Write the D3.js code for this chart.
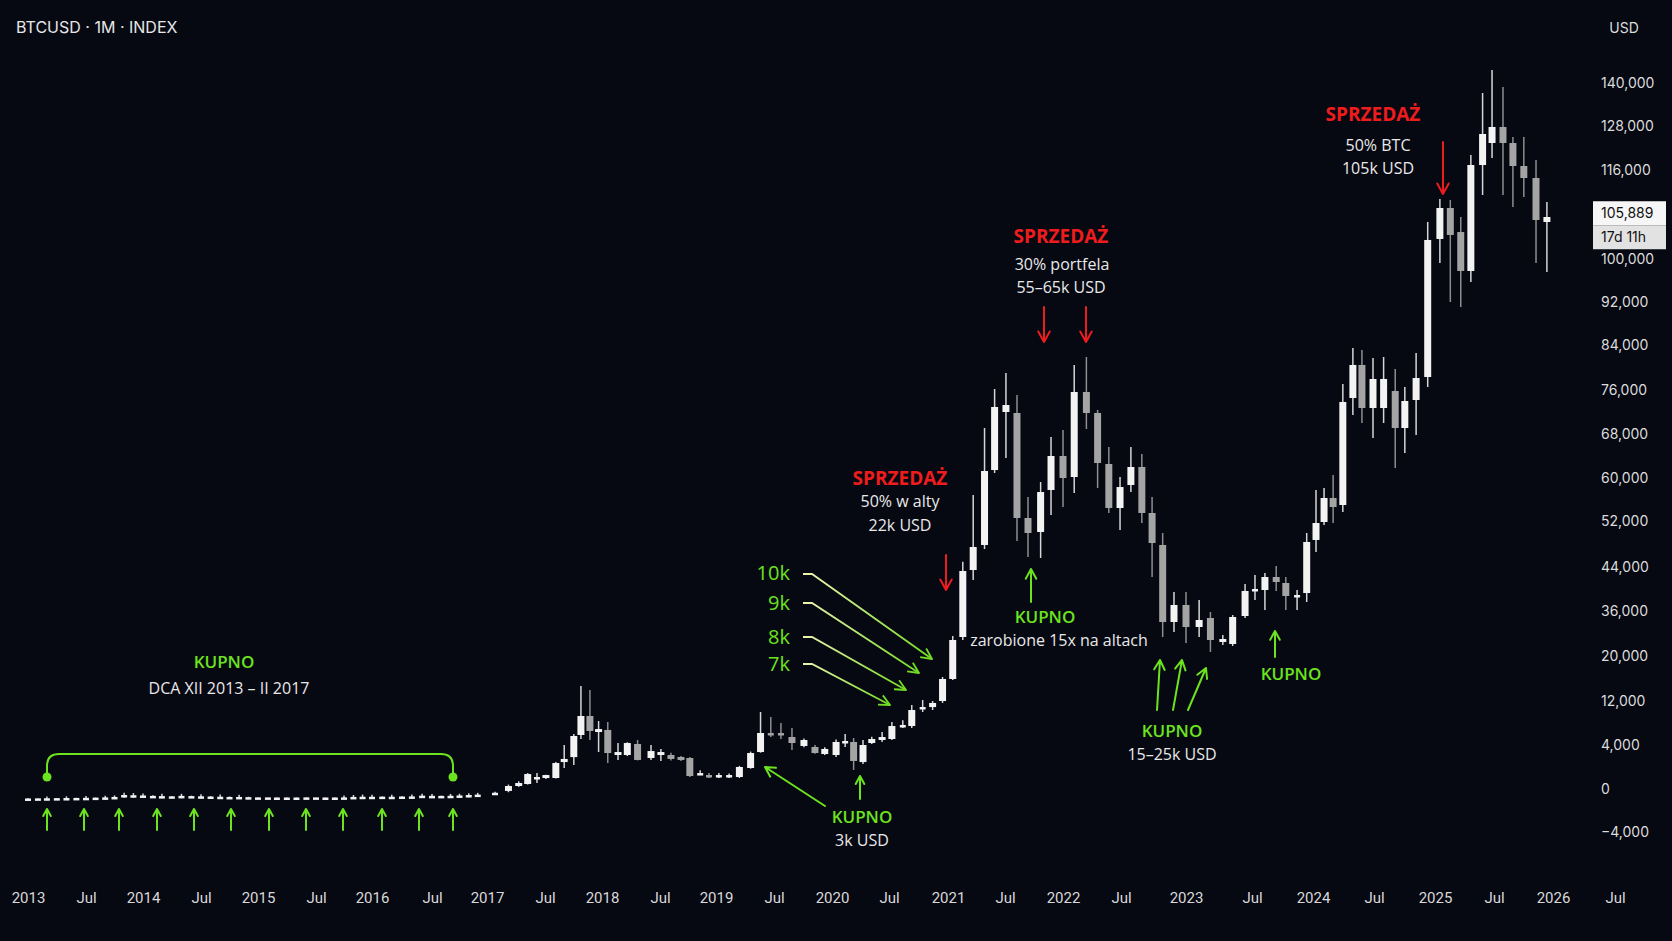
<!DOCTYPE html>
<html>
<head>
<meta charset="utf-8">
<script src="https://cdn.jsdelivr.net/npm/d3@7"></script>
<style>
  html, body { margin: 0; padding: 0; background: #060812; }
  svg { display: block; }
</style>
</head>
<body>
<svg id="chart" width="1672" height="941"></svg>
<script>
// ---- data ----
var dates = [
  "2013-01-01","2013-02-01","2013-03-01","2013-04-01","2013-05-01","2013-06-01","2013-07-01","2013-08-01","2013-09-01","2013-10-01","2013-11-01","2013-12-01",
  "2014-01-01","2014-02-01","2014-03-01","2014-04-01","2014-05-01","2014-06-01","2014-07-01","2014-08-01","2014-09-01","2014-10-01","2014-11-01","2014-12-01",
  "2015-01-01","2015-02-01","2015-03-01","2015-04-01","2015-05-01","2015-06-01","2015-07-01","2015-08-01","2015-09-01","2015-10-01","2015-11-01","2015-12-01",
  "2016-01-01","2016-02-01","2016-03-01","2016-04-01","2016-05-01","2016-06-01","2016-07-01","2016-08-01","2016-09-01","2016-10-01","2016-11-01","2016-12-01",
  "2017-01-26","2017-03-09","2017-04-10","2017-05-08","2017-06-06","2017-07-04","2017-08-05","2017-09-01","2017-10-02","2017-10-25","2017-11-23","2017-12-21",
  "2018-01-19","2018-02-20","2018-03-21","2018-04-22","2018-06-03","2018-07-04","2018-08-06","2018-09-08","2018-10-07","2018-11-10","2018-12-09",
  "2019-01-10","2019-02-11","2019-03-15","2019-04-19","2019-05-20","2019-06-21","2019-07-23","2019-08-27","2019-10-04","2019-11-08","2019-12-09",
  "2020-01-14","2020-02-12","2020-03-10","2020-04-09","2020-05-07","2020-06-09","2020-07-10","2020-08-13","2020-09-10","2020-10-14","2020-11-14","2020-12-15",
  "2021-01-16","2021-02-17","2021-03-22","2021-04-27","2021-05-29","2021-07-04","2021-08-08","2021-09-12","2021-10-22","2021-11-24",
  "2022-01-01","2022-02-05","2022-03-15","2022-04-19","2022-05-24","2022-06-28","2022-07-29","2022-08-29","2022-09-27","2022-10-27","2022-11-28",
  "2023-01-01","2023-02-06","2023-03-09","2023-04-12","2023-05-09","2023-06-12","2023-07-10","2023-08-09","2023-09-12","2023-10-11","2023-11-14","2023-12-13",
  "2024-01-10","2024-02-03","2024-03-01","2024-03-30","2024-04-29","2024-05-26","2024-06-28","2024-07-30","2024-09-03","2024-10-02","2024-11-05","2024-12-10",
  "2025-01-16","2025-02-17","2025-03-21","2025-04-21","2025-05-27","2025-06-25","2025-07-29","2025-08-29","2025-10-02","2025-11-09","2025-12-13"
];
var open = [
  -900,-890,-880,-870,-860,-850,-840,-830,-820,-800,-770,-620,
  -640,-660,-680,-700,-680,-680,-700,-720,-740,-760,-760,-780,
  -800,-800,-810,-810,-810,-800,-800,-810,-810,-800,-760,-740,
  -740,-730,-740,-720,-710,-690,-660,-660,-650,-630,-600,-560,
  -450,-180,270,455,1000,1000,1000,2450,2900,5820,9270,6360,
  6730,3090,3090,4180,2820,3090,3090,2910,2820,1280,1270,
  1100,1100,1090,1910,3360,6180,6180,5450,3910,3820,3180,
  3090,4550,4550,2450,4360,4910,5090,7450,7450,10550,10900,12000,
  15910,26760,43450,47830,61450,72000,71820,52560,50090,57770,
  64000,60180,75640,71820,62550,54420,58700,62000,53490,47830,32090,
  37090,30310,33510,24980,24270,34220,39640,39820,42180,41090,38700,39270,
  48700,51830,56280,54980,74550,80450,72730,72730,75820,69090,74180,78310,
  103600,109170,104850,97770,117360,123360,127730,123360,117090,114560,106650
];
var high = [
  -870,-860,-700,-840,-680,-820,-650,-800,-620,-600,-350,-380,
  -420,-580,-450,-640,-450,-620,-480,-660,-520,-700,-540,-720,
  -740,-760,-760,-770,-770,-760,-760,-770,-770,-600,-560,-520,
  -540,-690,-530,-680,-520,-450,-460,-620,-460,-440,-400,-360,
  -250,400,700,1450,1450,1300,2450,4000,6000,14670,13950,8360,
  8180,4360,4500,4900,4000,3640,3300,3000,2900,1700,1450,
  1450,1400,2100,3400,10000,9090,8000,7090,5200,4000,3800,
  5000,6000,5270,4900,5500,6360,8180,8500,11270,12180,12000,16270,
  27110,44930,56840,69090,76180,79020,75090,56460,59250,67450,
  68730,80450,81870,72360,65640,60180,65640,64360,56460,49910,39450,
  39450,38000,35640,27470,34580,40910,42550,42910,44170,42180,39820,49910,
  57770,58140,60550,77070,83470,83110,81690,81870,79730,76530,82580,106650,
  110790,110610,107550,120090,137210,143620,138880,125000,125000,118730,110250
];
var low = [
  -920,-910,-1050,-890,-1000,-870,-980,-850,-960,-940,-820,-800,
  -800,-680,-850,-720,-860,-700,-880,-740,-900,-780,-940,-800,
  -800,-800,-810,-810,-810,-800,-800,-810,-810,-950,-920,-900,
  -900,-740,-900,-740,-880,-820,-800,-660,-800,-780,-760,-700,
  -550,-300,200,400,550,900,950,1900,2180,5090,4900,3360,
  2360,2640,3000,2600,2640,2545,2600,2550,1100,1280,1000,
  1000,1000,1000,1850,3300,5450,5090,3550,3800,3200,3100,
  2900,3820,1730,2270,4200,4550,4910,7090,7090,10000,10360,11640,
  15730,25690,41640,47130,60910,63640,48520,45740,45570,53120,
  54600,57210,68910,58140,53490,50430,57390,51650,42180,26760,28530,
  24620,26760,21420,23910,23560,33510,38000,36180,39640,36180,36180,37640,
  46610,51300,51650,53670,71450,70000,67270,70000,61820,64550,67820,76530,
  99260,92000,91070,95720,111510,119270,111510,109350,111150,99260,97580
];
var close = [
  -880,-870,-860,-850,-840,-830,-820,-800,-780,-740,-560,-580,
  -600,-640,-660,-680,-640,-660,-680,-700,-720,-740,-740,-760,
  -780,-780,-790,-790,-790,-780,-780,-790,-790,-780,-740,-720,
  -720,-710,-720,-700,-690,-620,-640,-640,-630,-600,-560,-520,
  -350,270,545,1360,1090,1270,2360,2730,5640,9270,6550,6900,
  3270,3360,4360,2640,3450,3360,2730,2640,1180,1450,1090,
  1270,1270,2000,3270,6180,6000,5820,4360,4910,3270,3640,
  4550,4730,2550,4000,5090,5450,7450,7640,10360,10910,11640,15910,
  25690,43270,47480,61270,72910,73270,52560,49910,57390,64000,
  60000,75640,71820,62730,54420,58320,62000,53490,48170,32090,37090,
  30310,32800,25690,26040,33870,39640,40000,42180,41270,38730,38910,48350,
  51650,56280,54600,73820,80450,72730,77960,77960,69090,74000,78130,103420,
  109170,104320,97770,117360,125820,127730,123360,117090,114560,107010,107550
];
var lastPrice = 105889;
var timeLeft = "17d 11h";

var yTicks = [140000, 128000, 116000, 100000, 92000, 84000, 76000, 68000, 60000,
              52000, 44000, 36000, 20000, 12000, 4000, 0, -4000];
var xTickDates = ["2013-01-01","2013-07-01","2014-01-01","2014-07-01","2015-01-01","2015-07-01",
  "2016-01-01","2016-07-01","2017-01-01","2017-07-01","2018-01-01","2018-07-01","2019-01-01","2019-07-01",
  "2020-01-01","2020-07-01","2021-01-01","2021-07-01","2022-01-01","2022-07-01","2023-01-01","2023-07-01",
  "2024-01-01","2024-07-01","2025-01-01","2025-07-01","2026-01-01","2026-07-01"];

// ---- layout: the price axis is stretched unevenly, so both scales are piecewise ----
var yBreaks = [-4000, 0, 4000, 12000, 20000, 36000, 44000, 52000, 60000, 68000, 76000, 84000, 92000, 100000, 116000, 128000, 140000];
var yPix    = [832, 789, 745, 701, 656, 611, 567, 521, 478, 434, 390, 345, 302, 259, 170, 126, 83];
var xPix    = [28, 86, 143, 201, 258, 316, 372, 432, 487, 545, 602, 660, 716, 774, 832, 889,
               948, 1005, 1063, 1121, 1186, 1252, 1313, 1374, 1435, 1494, 1553, 1615];

var GREEN = "#6be31f", RED = "#ee1c1c", TXT = "#e9e9e9";
var parse = d3.utcParse("%Y-%m-%d");

var svg = d3.select("#chart");
svg.append("rect").attr("width", 1672).attr("height", 941).attr("fill", "#060812");

var x = d3.scaleUtc().domain(xTickDates.map(parse)).range(xPix);
var y = d3.scaleLinear().domain(yBreaks).range(yPix);

var candles = dates.map(function(d, i) {
  return { date: parse(d), o: open[i], h: high[i], l: low[i], c: close[i] };
});

/* ------- AXES -------*/
var xAxis = svg.append("g")
  .attr("transform", "translate(0,886)")
  .call(d3.axisBottom(x)
    .tickValues(xTickDates.map(parse))
    .tickSize(0).tickPadding(6)
    .tickFormat(function(d) { return d.getUTCMonth() === 0 ? d3.utcFormat("%Y")(d) : "Jul"; }));
xAxis.select(".domain").remove();
xAxis.selectAll("text").attr("fill", "#d9d9d9").style("font", "15px Roboto, sans-serif");

var yAxis = svg.append("g")
  .attr("transform", "translate(1601,0)")
  .call(d3.axisRight(y).tickValues(yTicks).tickSize(0).tickPadding(0).tickFormat(d3.format(",")));
yAxis.select(".domain").remove();
yAxis.selectAll("text").attr("fill", "#dcdcdc").style("font", "14px Inter, sans-serif");

svg.append("text").attr("x", 1624).attr("y", 33).attr("text-anchor", "middle")
  .attr("fill", "#dcdcdc").style("font", "14px Inter, sans-serif").text("USD");
svg.append("text").attr("x", 16).attr("y", 33)
  .attr("fill", "#e6e6e6").style("font", "16px Inter, sans-serif").text("BTCUSD · 1M · INDEX");

/* ------- CANDLES -------*/
var cg = svg.append("g").attr("class", "candles");
cg.selectAll("line.wick").data(candles).join("line")
  .attr("class", "wick")
  .attr("x1", function(d) { return x(d.date); })
  .attr("x2", function(d) { return x(d.date); })
  .attr("y1", function(d) { return y(d.h); })
  .attr("y2", function(d) { return y(d.l); })
  .attr("stroke", function(d) { return d.c >= d.o ? "#d6d6d6" : "#8e8e8e"; })
  .attr("stroke-width", 1.5);
cg.selectAll("rect.body").data(candles).join("rect")
  .attr("class", "body")
  .attr("x", function(d) { return x(d.date) - (Math.abs(y(d.o) - y(d.c)) < 2.5 ? 3 : 3.5); })
  .attr("width", function(d) { return Math.abs(y(d.o) - y(d.c)) < 2.5 ? 6 : 7; })
  .attr("y", function(d) { return Math.min(y(d.o), y(d.c)); })
  .attr("height", function(d) { return Math.max(2.5, Math.abs(y(d.o) - y(d.c))); })
  .attr("fill", function(d) { return d.c >= d.o ? "#f3f3f3" : "#a4a4a4"; });

/* ------- LAST PRICE TAG -------*/
var py = y(lastPrice);
var tag = svg.append("g").attr("transform", "translate(1593," + (py - 25) + ")");
tag.append("rect").attr("width", 73).attr("height", 24).attr("fill", "#f6f6f6");
tag.append("rect").attr("y", 24).attr("width", 73).attr("height", 24).attr("fill", "#e2e2e2");
tag.append("text").attr("x", 8).attr("y", 17).attr("fill", "#111")
  .style("font", "14px Inter, sans-serif").text(d3.format(",")(lastPrice));
tag.append("text").attr("x", 8).attr("y", 41).attr("fill", "#111")
  .style("font", "14px Inter, sans-serif").text(timeLeft);

/* ------- ANNOTATIONS -------*/
var ann = svg.append("g").attr("class", "notes");

function arrow(x1, y1, x2, y2, color, w, head) {
  var a = Math.atan2(y2 - y1, x2 - x1), h = head, s = 0.5;
  ann.append("path")
    .attr("d", "M" + x1 + "," + y1 + "L" + x2 + "," + y2 +
      "M" + (x2 - h * Math.cos(a - s)) + "," + (y2 - h * Math.sin(a - s)) +
      "L" + x2 + "," + y2 +
      "L" + (x2 - h * Math.cos(a + s)) + "," + (y2 - h * Math.sin(a + s)))
    .attr("fill", "none").attr("stroke", color).attr("stroke-width", w)
    .attr("stroke-linecap", "round").attr("stroke-linejoin", "round");
}
function label(cx, cy, str, size, weight, color, anchor) {
  ann.append("text").attr("x", cx).attr("y", cy).attr("dy", "0.35em")
    .attr("text-anchor", anchor || "middle").attr("fill", color)
    .style("font-family", "'Open Sans', sans-serif")
    .style("font-size", size + "px").style("font-weight", weight)
    .text(str);
}

// DCA bracket
ann.append("path")
  .attr("d", "M47,777V766Q47,754 59,754H441Q453,754 453,766V777")
  .attr("fill", "none").attr("stroke", GREEN).attr("stroke-width", 2);
[47, 453].forEach(function(cx) {
  ann.append("circle").attr("cx", cx).attr("cy", 777).attr("r", 4.5).attr("fill", GREEN);
});
[47, 84, 119, 157, 194, 231, 269, 306, 343, 382, 419, 453].forEach(function(ax) {
  arrow(ax, 830, ax, 809, GREEN, 2, 8);
});
label(224, 662, "KUPNO", 17, 600, GREEN);
label(229, 688, "DCA XII 2013 – II 2017", 16, 400, TXT);

// 3k USD
arrow(825, 806, 765, 767, GREEN, 2, 11);
arrow(860, 799, 860, 776, GREEN, 2, 9);
label(862, 817, "KUPNO", 17, 600, GREEN);
label(862, 840, "3k USD", 16, 400, TXT);

// 7k..10k ladder
var defs = svg.append("defs");
var ladder = [
  { t: "10k", ty: 573, pts: [[803, 574], [812, 574], [932, 659]] },
  { t: "9k",  ty: 603, pts: [[803, 603], [812, 603], [919, 673]] },
  { t: "8k",  ty: 637, pts: [[803, 637], [812, 637], [906, 690]] },
  { t: "7k",  ty: 664, pts: [[803, 664], [812, 664], [890, 705]] }
];
ladder.forEach(function(l, i) {
  var p0 = l.pts[0], p1 = l.pts[1], p2 = l.pts[2];
  var gr = defs.append("linearGradient").attr("id", "lg" + i)
    .attr("gradientUnits", "userSpaceOnUse")
    .attr("x1", p0[0]).attr("y1", p0[1]).attr("x2", p2[0]).attr("y2", p2[1]);
  gr.append("stop").attr("offset", 0).attr("stop-color", "#eef2ae");
  gr.append("stop").attr("offset", 1).attr("stop-color", "#72dc22");
  ann.append("polyline").attr("points", l.pts.join(" "))
    .attr("fill", "none").attr("stroke", "url(#lg" + i + ")").attr("stroke-width", 1.8);
  var a = Math.atan2(p2[1] - p1[1], p2[0] - p1[0]), h = 12, s = 0.45;
  ann.append("path")
    .attr("d", "M" + (p2[0] - h * Math.cos(a - s)) + "," + (p2[1] - h * Math.sin(a - s)) +
      "L" + p2[0] + "," + p2[1] + "L" + (p2[0] - h * Math.cos(a + s)) + "," + (p2[1] - h * Math.sin(a + s)))
    .attr("fill", "none").attr("stroke", "#72dc22").attr("stroke-width", 1.8)
    .attr("stroke-linejoin", "round");
  label(790, l.ty, l.t, 20, 500, GREEN, "end");
});

// Sell 22k
label(900, 478, "SPRZEDAŻ", 19, 700, RED);
label(900, 501, "50% w alty", 16, 400, TXT);
label(900, 525, "22k USD", 16, 400, TXT);
arrow(946, 555, 946, 590, RED, 2, 12);

// Buy after alts
arrow(1031, 602, 1031, 569, GREEN, 2, 11);
label(1045, 617, "KUPNO", 17, 600, GREEN);
label(1059, 640, "zarobione 15x na altach", 16, 400, TXT);

// Sell 55-65k
label(1061, 236, "SPRZEDAŻ", 19, 700, RED);
label(1062, 264, "30% portfela", 16, 400, TXT);
label(1061, 287, "55–65k USD", 16, 400, TXT);
arrow(1044, 307, 1044, 342, RED, 2, 12);
arrow(1086, 307, 1086, 342, RED, 2, 12);

// Buy 15-25k
arrow(1157, 710, 1160, 660, GREEN, 2, 11);
arrow(1173, 710, 1182, 660, GREEN, 2, 11);
arrow(1188, 710, 1206, 668, GREEN, 2, 11);
label(1172, 731, "KUPNO", 17, 600, GREEN);
label(1172, 754, "15–25k USD", 16, 400, TXT);

// Buy 2023
arrow(1275, 657, 1275, 631, GREEN, 2, 10);
label(1291, 674, "KUPNO", 17, 600, GREEN);

// Sell 105k
label(1373, 114, "SPRZEDAŻ", 19, 700, RED);
label(1378, 145, "50% BTC", 16, 400, TXT);
label(1378, 168, "105k USD", 16, 400, TXT);
arrow(1443, 142, 1443, 194, RED, 2, 12);
</script>
</body>
</html>
